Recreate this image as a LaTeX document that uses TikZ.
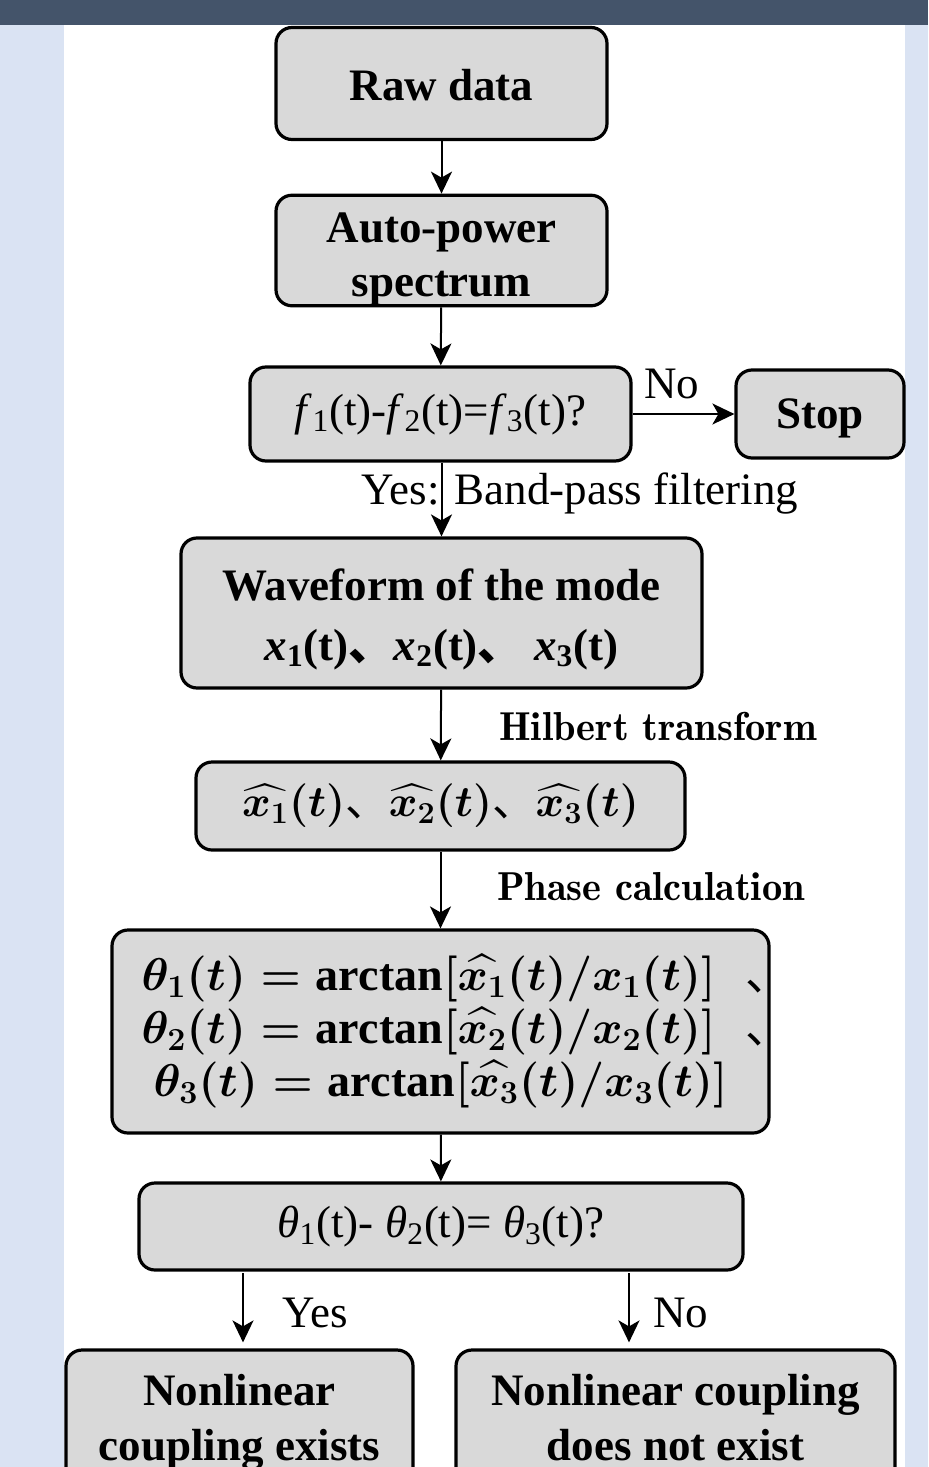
\RequirePackage{fix-cm}
\documentclass[tikz,border=0pt]{standalone}
\usepackage{fontspec}
\setmainfont{Liberation Serif}
\newfontfamily\cjk{Noto Sans CJK SC}
\usepackage{amsmath,bm}
\usetikzlibrary{arrows.meta}
\definecolor{boxgray}{HTML}{D9D9D9}
\definecolor{topbar}{HTML}{44546A}
\definecolor{panel}{HTML}{DAE3F3}
\newcommand\lmbold{\fontfamily{lmr}\fontseries{b}\selectfont}
\newcommand\dun{{\cjk 、}}
\newcommand\taildun{\makebox[12pt][l]{\hspace{15pt}\dun}}
\begin{document}
\begin{tikzpicture}[x=0.5pt,y=-0.5pt,
  box/.style={draw, line width=1.6pt, rounded corners=8pt, fill=boxgray, align=center, inner sep=0pt,
    font=\fontsize{22.5}{27}\selectfont\bfseries},
  lbl/.style={inner sep=0pt, font=\fontsize{22.5}{27}\selectfont},
  lbltwo/.style={inner sep=0pt, font=\fontsize{20.2}{24}\lmbold},
  arr/.style={draw, line width=1pt, -{Stealth[length=11pt,width=10.5pt,inset=3pt]}}]
\useasboundingbox (0,0) rectangle (928,1467);
\clip (0,0) rectangle (928,1467);
\fill[panel] (0,0) rectangle (928,1467);
\fill[white] (64,25) rectangle (905,1467);
\fill[topbar] (0,0) rectangle (928,25);

\node[box, minimum width=165.5pt, minimum height=56pt] (raw) at (441.5,83.5) {\rule{0pt}{17.5pt}Raw data};
\node[box, minimum width=165.5pt, minimum height=54.5pt] (auto) at (441.5,250.5) {\rule{0pt}{23.5pt}Auto-power\\spectrum};
\node[box, minimum width=190.5pt, minimum height=47pt, font=\fontsize{22.5}{27}\selectfont] (freq) at (440.5,414)
  {\textit{f}\textsubscript{1}(t)-\textit{f}\textsubscript{2}(t)=\textit{f}\textsubscript{3}(t)?};
\node[box, minimum width=84pt, minimum height=44pt] (stop) at (820,414) {\rule{0pt}{19pt}Stop};
\node[box, minimum width=260.5pt, minimum height=75pt, font=\fontsize{22.5}{30}\selectfont\bfseries] (wave) at (441.5,613)
  {\rule{0pt}{22pt}Waveform of the mode\\\textit{x}\textsubscript{1}(t)\dun\textit{x}\textsubscript{2}(t)\dun{} \textit{x}\textsubscript{3}(t)};
\node[box, minimum width=244.5pt, minimum height=44pt, font=\fontsize{21.8}{26}\selectfont\boldmath] (hat) at (440.5,806)
  {$\widehat{x_1}(t)$\dun$\widehat{x_2}(t)$\dun$\widehat{x_3}(t)$};
\node[box, minimum width=328.5pt, minimum height=101.5pt, font=\fontsize{23}{26.5}\selectfont\boldmath] (phasebox) at (440.5,1031.5)
  {$\theta_1(t)=\mathrm{arctan}[\widehat{x_1}(t)/x_1(t)]$\taildun\\
   $\theta_2(t)=\mathrm{arctan}[\widehat{x_2}(t)/x_2(t)]$\taildun\\
   $\theta_3(t)=\mathrm{arctan}[\widehat{x_3}(t)/x_3(t)]$};
\node[box, minimum width=302pt, minimum height=43.5pt, font=\fontsize{22.5}{27}\selectfont] (diff) at (441,1226.5)
  {\textit{θ}\textsubscript{1}(t)- \textit{θ}\textsubscript{2}(t)= \textit{θ}\textsubscript{3}(t)?};
\node[box, minimum width=173.5pt, minimum height=72pt, font=\fontsize{22.5}{27.5}\selectfont\bfseries] (yes) at (239.5,1422)
  {Nonlinear\\coupling exists};
\node[box, minimum width=219.5pt, minimum height=72pt, font=\fontsize{22.5}{27.5}\selectfont\bfseries] (no) at (675.5,1422)
  {Nonlinear coupling\\does not exist\vphantom{g}};

\node[lbl] (nolab) at (672,384) {No};
\node[lbl] (yeslab) at (580,494) {Yes: Band-pass filtering};
\node[lbltwo] (hilb) at (658,726) {Hilbert transform};
\node[lbltwo] (phasecalc) at (651,887) {Phase calculation};
\node[lbl] (yestwo) at (315,1313) {Yes};
\node[lbl] (notwo) at (681,1313) {No};

\coordinate (ya) at (243,1273);
\coordinate (nb) at (629,1273);

\draw[arr] (raw) -- (auto);
\draw[arr] (auto) -- (freq);
\draw[arr] (freq) -- (stop);
\draw[arr] (freq.south -| wave.north) -- (wave.north);
\draw[arr] (wave) -- (hat);
\draw[arr] (hat) -- (phasebox);
\draw[arr] (phasebox) -- (diff);
\draw[arr, shorten >=3pt] (ya) -- (ya |- yes.north);
\draw[arr, shorten >=3pt] (nb) -- (nb |- no.north);
\end{tikzpicture}
\end{document}
